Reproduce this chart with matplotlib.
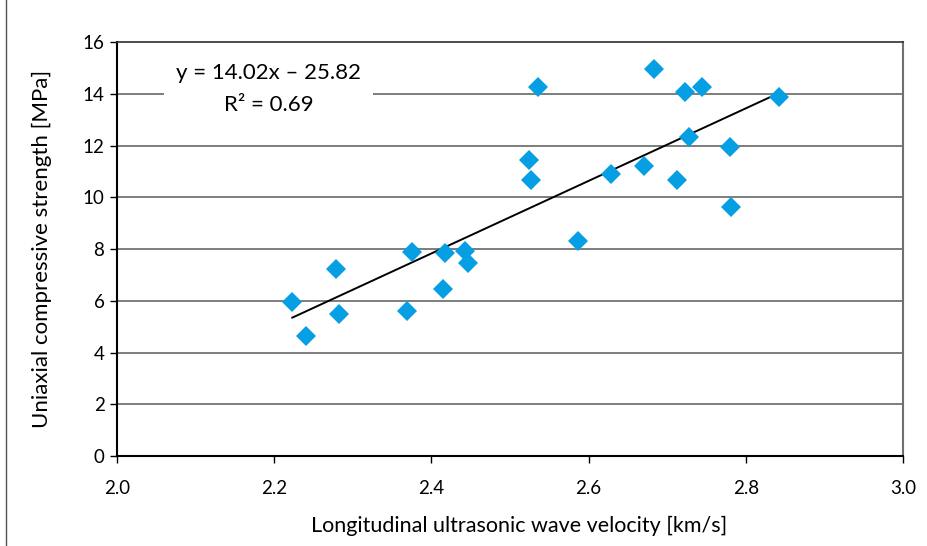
import matplotlib
matplotlib.use('Agg')
import matplotlib.pyplot as plt
from matplotlib.lines import Line2D
import numpy as np

plt.rcParams['font.family'] = ['Lato', 'DejaVu Sans']

# measured points: longitudinal velocity [km/s] vs UCS [MPa]
velocity = [2.223, 2.240, 2.279, 2.283, 2.369, 2.375, 2.415, 2.417, 2.443, 2.446,
            2.524, 2.527, 2.535, 2.587, 2.628, 2.670, 2.683, 2.712, 2.723, 2.728,
            2.744, 2.780, 2.781, 2.842]
ucs = [5.94, 4.64, 7.24, 5.49, 5.59, 7.87, 6.45, 7.83, 7.91, 7.45,
       11.44, 10.67, 14.25, 8.32, 10.90, 11.21, 14.97, 10.67, 14.08, 12.34,
       14.25, 11.95, 9.63, 13.86]

slope = 14.02
intercept = -25.82
r2 = 0.69

x_ticks = [2.0, 2.2, 2.4, 2.6, 2.8, 3.0]
y_ticks = [0, 2, 4, 6, 8, 10, 12, 14, 16]

font_size = 13.5

fig = plt.figure(figsize=(9.28, 5.46), dpi=100)
ax = fig.add_axes([117/928, 1 - 456/546, (903-117)/928, (456-42)/546])

# horizontal grid
for yv in y_ticks[1:-1]:
    ax.axhline(yv, color='#5a5a5a', lw=1.1, zorder=1)

ax.plot(velocity, ucs, 'D', color='#069fe3', markersize=10.5, markeredgewidth=0, zorder=3)

x_fit = np.array([min(velocity), max(velocity)])
ax.plot(x_fit, slope * x_fit + intercept, '-', color='black', lw=1.4, zorder=2)

ax.text(2.1928, 14.2, 'y = 14.02x – 25.82\nR² = 0.69', ha='center', va='center',
        fontsize=16, linespacing=1.75, multialignment='center', zorder=4,
        bbox=dict(boxstyle='square,pad=0.55', facecolor='white', edgecolor='none'))

ax.set_xlim(2.0, 3.0)
ax.set_ylim(0, 16)
ax.set_xticks(x_ticks)
ax.set_xticklabels(['%.1f' % v for v in x_ticks])
ax.set_yticks(y_ticks)
ax.tick_params(axis='both', direction='out', length=5, width=1, labelsize=font_size, colors='black')
ax.tick_params(axis='x', pad=12)
ax.tick_params(axis='y', pad=4)

ax.spines['left'].set_color('black')
ax.spines['bottom'].set_color('black')
ax.spines['left'].set_linewidth(1.5)
ax.spines['bottom'].set_linewidth(1.5)
ax.spines['top'].set_color('#303030')
ax.spines['right'].set_color('#707070')
ax.spines['top'].set_linewidth(1.2)
ax.spines['right'].set_linewidth(1.5)

ax.set_xlabel('Longitudinal ultrasonic wave velocity [km/s]', fontsize=15.5, labelpad=14)
ax.xaxis.set_label_coords(0.511, -0.145)
ax.set_ylabel('Uniaxial compressive strength [MPa]', fontsize=16, labelpad=22)

# outer frame line on the left
fig.add_artist(Line2D([6/928, 6/928], [0, 1], transform=fig.transFigure, color='#505050', lw=1))

fig.savefig('out.png', dpi=100)
